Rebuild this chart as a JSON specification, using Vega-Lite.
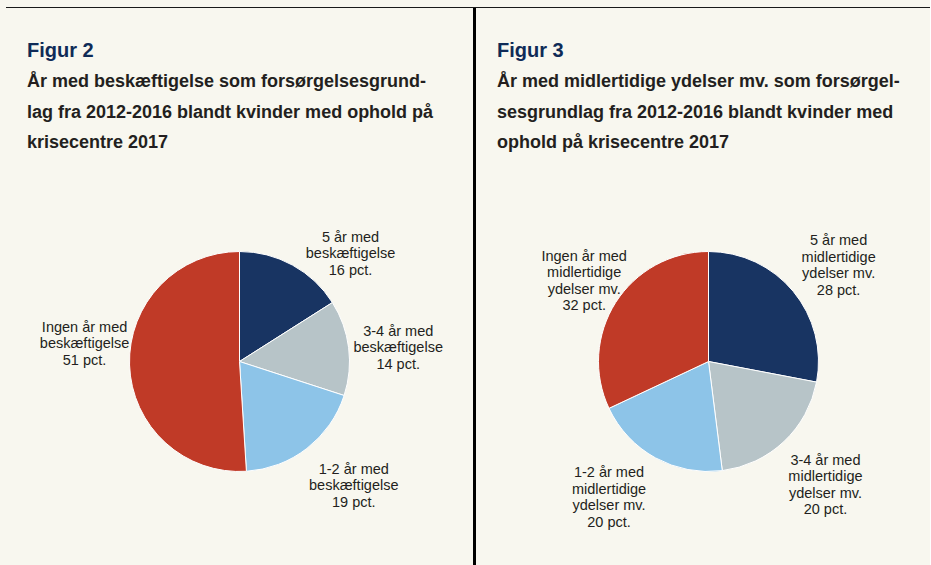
{
  "$schema": "https://vega.github.io/schema/vega-lite/v6.json",
  "background": "#f8f7ef",
  "padding": {"left": 6, "top": 7, "right": 0, "bottom": 0},
  "config": {
    "view": {"stroke": null},
    "title": {
      "anchor": "start", "frame": "group", "dx": 21, "font": "Liberation Sans", "fontSize": 20, "fontWeight": "bold",
      "color": "#0f2b57", "lineHeight": 32, "subtitleFont": "Liberation Sans", "subtitleFontSize": 18,
      "subtitleFontWeight": "bold", "subtitleColor": "#231f20", "subtitleLineHeight": 30.5, "subtitlePadding": 12.5, "offset": -144
    },
    "text": {"font": "Liberation Sans", "fontSize": 14.5, "lineHeight": 16.5, "lineBreak": "\n", "color": "#231f20", "align": "center", "baseline": "middle"}
  },
  "spacing": 0,
  "vconcat": [
    {
      "width": 924, "height": 1,
      "view": {"fill": "#1a1a1a", "stroke": null},
      "data": {"values": []},
      "mark": "rect",
      "encoding": {}
    },
    {
      "spacing": 0,
      "align": "none",
      "hconcat": [
        {
          "width": 467, "height": 707,
          "view": {"fill": "#f8f7ef", "stroke": null},
          "title": {
            "text": ["", "Figur 2"],
            "subtitle": ["År med beskæftigelse som forsørgelsesgrund-", "lag fra 2012-2016 blandt kvinder med ophold på", "krisecentre 2017"]
          },
          "data": {"values": [
            {"cat": "5 år", "order": 1, "pct": 16, "label": "5 år med\nbeskæftigelse\n16 pct."},
            {"cat": "3-4 år", "order": 2, "pct": 14, "label": "3-4 år med\nbeskæftigelse\n14 pct."},
            {"cat": "1-2 år", "order": 3, "pct": 19, "label": "1-2 år med\nbeskæftigelse\n19 pct."},
            {"cat": "Ingen år", "order": 4, "pct": 51, "label": "Ingen år med\nbeskæftigelse\n51 pct."}
          ]},
          "encoding": {
            "theta": {"field": "pct", "type": "quantitative", "stack": true},
            "order": {"field": "order", "type": "quantitative"}
          },
          "layer": [
            {
              "mark": {"type": "arc", "radius": 110, "stroke": "#ffffff", "strokeWidth": 1},
              "encoding": {
                "color": {"field": "cat", "type": "nominal", "legend": null,
                  "scale": {"domain": ["5 år", "3-4 år", "1-2 år", "Ingen år"], "range": ["#183462", "#b7c4c8", "#8dc4e8", "#c03a27"]}}
              }
            },
            {"mark": {"type": "text", "radius": 162, "dx": 33, "dy": 18},
             "encoding": {"detail": {"field": "cat"}, "text": {"condition": {"test": "datum.order === 1", "field": "label"}, "value": ""}}},
            {"mark": {"type": "text", "radius": 162, "dx": -2, "dy": -9.5},
             "encoding": {"detail": {"field": "cat"}, "text": {"condition": {"test": "datum.order === 2", "field": "label"}, "value": ""}}},
            {"mark": {"type": "text", "radius": 162, "dx": 15, "dy": -20},
             "encoding": {"detail": {"field": "cat"}, "text": {"condition": {"test": "datum.order === 3", "field": "label"}, "value": ""}}},
            {"mark": {"type": "text", "radius": 140, "dx": -15, "dy": -38.2},
             "encoding": {"detail": {"field": "cat"}, "text": {"condition": {"test": "datum.order === 4", "field": "label"}, "value": ""}}}
          ]
        },
        {
          "width": 3, "height": 557,
          "view": {"fill": "#000000", "stroke": null},
          "data": {"values": []},
          "mark": "rect",
          "encoding": {}
        },
        {
          "width": 454, "height": 707,
          "view": {"fill": "#f8f7ef", "stroke": null},
          "title": {
            "text": ["", "Figur 3"],
            "subtitle": ["År med midlertidige ydelser mv. som forsørgel-", "sesgrundlag fra 2012-2016 blandt kvinder med", "ophold på krisecentre 2017"]
          },
          "data": {"values": [
            {"cat": "5 år", "order": 1, "pct": 28, "label": "5 år med\nmidlertidige\nydelser mv.\n28 pct."},
            {"cat": "3-4 år", "order": 2, "pct": 20, "label": "3-4 år med\nmidlertidige\nydelser mv.\n20 pct."},
            {"cat": "1-2 år", "order": 3, "pct": 20, "label": "1-2 år med\nmidlertidige\nydelser mv.\n20 pct."},
            {"cat": "Ingen år", "order": 4, "pct": 32, "label": "Ingen år med\nmidlertidige\nydelser mv.\n32 pct."}
          ]},
          "encoding": {
            "theta": {"field": "pct", "type": "quantitative", "stack": true},
            "order": {"field": "order", "type": "quantitative"}
          },
          "layer": [
            {
              "mark": {"type": "arc", "radius": 110, "stroke": "#ffffff", "strokeWidth": 1, "xOffset": 5.5},
              "encoding": {
                "color": {"field": "cat", "type": "nominal", "legend": null,
                  "scale": {"domain": ["5 år", "3-4 år", "1-2 år", "Ingen år"], "range": ["#183462", "#b7c4c8", "#8dc4e8", "#c03a27"]}}
              }
            },
            {"mark": {"type": "text", "radius": 165, "dx": 8.5, "dy": -15},
             "encoding": {"detail": {"field": "cat"}, "text": {"condition": {"test": "datum.order === 1", "field": "label"}, "value": ""}}},
            {"mark": {"type": "text", "radius": 165, "dx": 9.5, "dy": -21},
             "encoding": {"detail": {"field": "cat"}, "text": {"condition": {"test": "datum.order === 2", "field": "label"}, "value": ""}}},
            {"mark": {"type": "text", "radius": 165, "dx": -14.5, "dy": -33},
             "encoding": {"detail": {"field": "cat"}, "text": {"condition": {"test": "datum.order === 3", "field": "label"}, "value": ""}}},
            {"mark": {"type": "text", "radius": 165, "dx": 20.5, "dy": -16.5},
             "encoding": {"detail": {"field": "cat"}, "text": {"condition": {"test": "datum.order === 4", "field": "label"}, "value": ""}}}
          ]
        }
      ]
    }
  ]
}
